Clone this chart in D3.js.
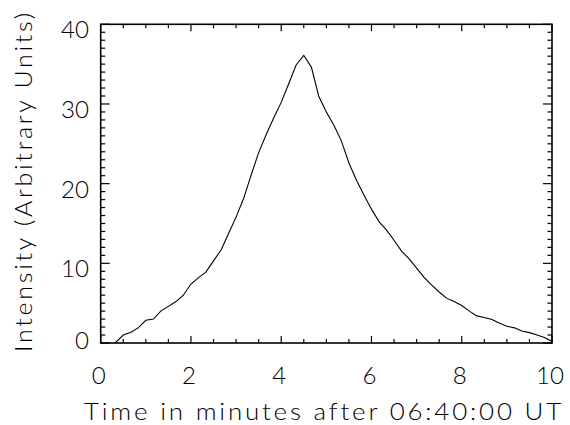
<!DOCTYPE html>
<html><head><meta charset="utf-8">
<script src="https://cdn.jsdelivr.net/npm/d3@7"></script>
<style>
html,body{margin:0;padding:0;background:#fff;}
text{font-family:Lato,"Open Sans",sans-serif;font-weight:300;fill:#000;}
</style></head>
<body><svg id="c" width="570" height="425"></svg>
<script>
const times = [0,0.17,0.33,0.5,0.67,0.83,1.0,1.17,1.33,1.5,1.67,1.83,2.0,2.17,2.33,2.5,2.67,2.83,3.0,3.17,3.33,3.5,3.67,3.83,4.0,4.17,4.33,4.5,4.67,4.83,5.0,5.17,5.33,5.5,5.67,5.83,6.0,6.17,6.33,6.5,6.67,6.83,7.0,7.17,7.33,7.5,7.67,7.83,8.0,8.17,8.33,8.5,8.67,8.83,9.0,9.17,9.33,9.5,9.67,9.83,10.0];
const intensity = [-4,-2,0.05,1.0,1.35,1.9,2.85,3.0,4.0,4.6,5.2,6.0,7.4,8.2,8.9,10.3,11.7,13.7,15.8,18.2,21.0,23.9,26.2,28.2,30.2,32.6,34.9,36.1,34.6,31.0,29.0,27.3,25.4,22.6,20.4,18.6,16.8,15.2,14.2,12.9,11.5,10.6,9.4,8.2,7.3,6.4,5.6,5.2,4.7,4.0,3.4,3.2,2.95,2.5,2.1,1.9,1.5,1.3,1.0,0.7,0.2];
const xTicks = [0,2,4,6,8,10];
const yTicks = [0,10,20,30,40];
const xTitle = "Time in minutes after 06:40:00 UT";
const yTitle = "Intensity (Arbitrary Units)";

const L=100.7, R=552, T=24.3, B=343;
const svg = d3.select("#c");
const x = d3.scaleLinear().domain([0,10]).range([L,R]);
const y = d3.scaleLinear().domain([0,40]).range([B,T]);

svg.append("clipPath").attr("id","clip").append("rect")
  .attr("x",L).attr("y",T).attr("width",R-L).attr("height",B-T);

const xMinor = d3.range(0,10.01,0.5);
const yMinor = d3.range(0,40.01,1);

function tickLines(g, vals, isX, side, majors) {
  g.selectAll("line").data(vals).join("line")
    .attr("stroke","#000").attr("stroke-width",1.2)
    .each(function(d){
      const major = majors.includes(d);
      const len = major ? (isX?7:9) : (isX?4:4.5);
      const s = d3.select(this);
      if (isX) {
        const px = x(d);
        const y0 = side==="bottom"?B:T, y1 = side==="bottom"?B-len:T+len;
        s.attr("x1",px).attr("x2",px).attr("y1",y0).attr("y2",y1);
      } else {
        const py = y(d);
        const x0 = side==="left"?L:R, x1 = side==="left"?L+len:R-len;
        s.attr("y1",py).attr("y2",py).attr("x1",x0).attr("x2",x1);
      }
    });
}
tickLines(svg.append("g"), xMinor, true, "bottom", xTicks);
tickLines(svg.append("g"), xMinor, true, "top", xTicks);
tickLines(svg.append("g"), yMinor, false, "left", yTicks);
tickLines(svg.append("g"), yMinor, false, "right", yTicks);

svg.append("rect").attr("x",L).attr("y",T).attr("width",R-L).attr("height",B-T)
  .attr("fill","none").attr("stroke","#000").attr("stroke-width",1.6);

const line = d3.line().x((d,i)=>x(times[i])).y(d=>y(d));
svg.append("path").datum(intensity).attr("d",line)
  .attr("clip-path","url(#clip)")
  .attr("fill","none").attr("stroke","#000").attr("stroke-width",1.1);

svg.append("g").selectAll("text").data(xTicks).join("text")
  .attr("x",d=>x(d)-2).attr("y",384).attr("text-anchor","middle")
  .attr("font-size",23)
  .attr("textLength",d=>String(d).length*14).attr("lengthAdjust","spacingAndGlyphs")
  .text(d=>d);

svg.append("g").selectAll("text").data(yTicks).join("text")
  .attr("x",89).attr("y",d=>Math.min(y(d)+14,349)).attr("text-anchor","end")
  .attr("font-size",23)
  .attr("textLength",d=>String(d).length*14).attr("lengthAdjust","spacingAndGlyphs")
  .text(d=>d);

svg.append("text").attr("x",324).attr("y",420).attr("text-anchor","middle")
  .attr("font-size",23).style("letter-spacing","2.5px")
  .attr("textLength",480).attr("lengthAdjust","spacingAndGlyphs").text(xTitle);

svg.append("text").attr("transform","translate(32,181) rotate(-90)")
  .attr("text-anchor","middle").attr("font-size",23).style("letter-spacing","2.5px")
  .attr("textLength",342).attr("lengthAdjust","spacingAndGlyphs").text(yTitle);
</script></body></html>
